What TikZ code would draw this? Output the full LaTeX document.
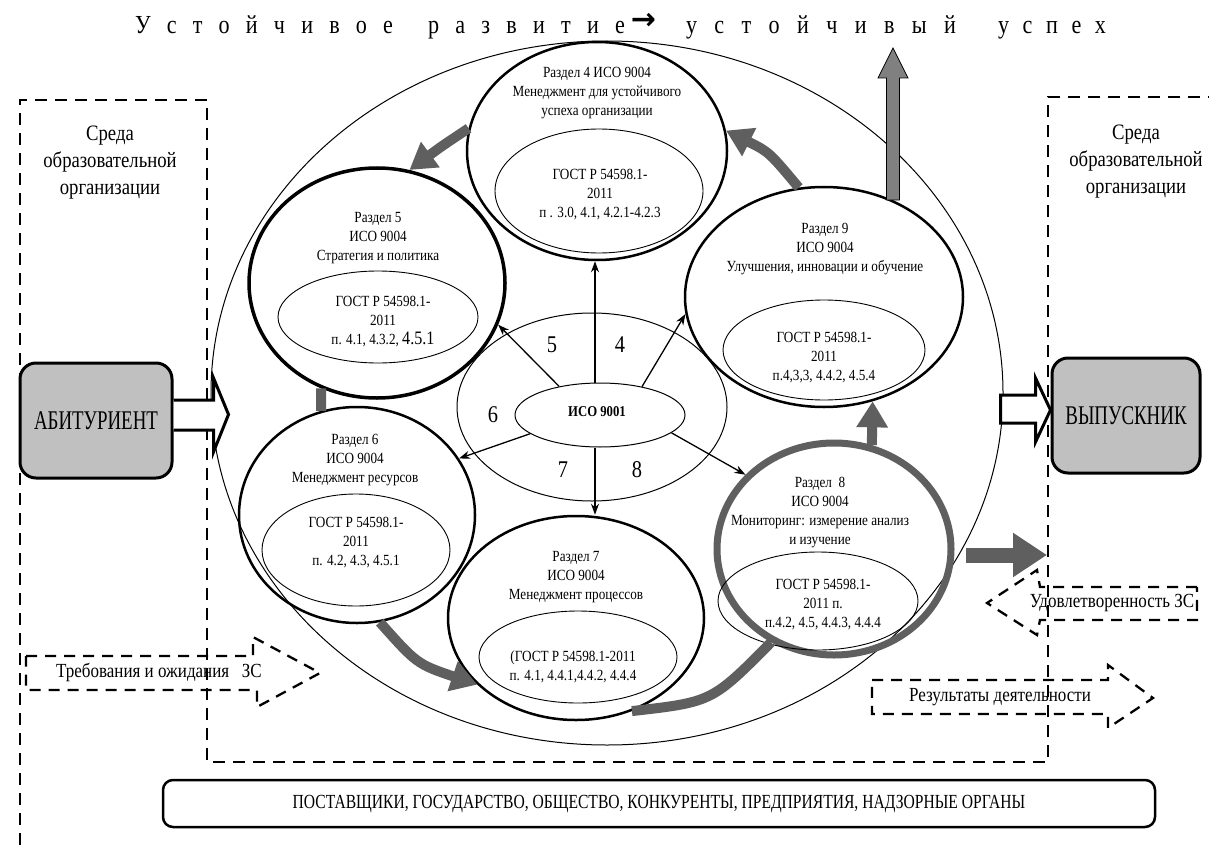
\documentclass[tikz,border=0pt]{standalone}
\usepackage{fontspec}
\setmainfont{Liberation Serif}[FakeStretch=0.85]
\newfontfamily\narrowfont{Liberation Serif}[FakeStretch=0.7]
\newfontfamily\midfont{Liberation Serif}[FakeStretch=0.78]
\newfontfamily\arrfont{DejaVu Sans}
\usetikzlibrary{shapes.geometric,arrows.meta,calc}
\definecolor{bandgrey}{HTML}{5F5F5F}
\definecolor{upgrey}{HTML}{808080}
\definecolor{boxgrey}{HTML}{C0C0C0}
\newcommand\secfont{\fontsize{15.5}{19}\selectfont}
\newcommand\envfont{\fontsize{22}{27}\selectfont}
\newcommand\numfont{\fontsize{24}{26}\selectfont}
\newcommand\dafont{\fontsize{20}{22}\selectfont}
\begin{document}
\begin{tikzpicture}[x=1pt,y=-1pt,
  sec/.style={ellipse, draw, line width=2.5pt, inner sep=0pt},
  inell/.style={ellipse, draw, line width=0.9pt, inner sep=0pt},
  txt/.style={align=center, font=\secfont, inner sep=0pt},
  thinarrow/.style={line width=1.3pt, -{Stealth[length=11pt,width=8pt]}},
  band/.style={line width=10pt, draw=bandgrey, -{Triangle[width=30pt,length=26pt]}},
  bandplain/.style={line width=10pt, draw=bandgrey},
  dashline/.style={line width=2.5pt, dash pattern=on 12pt off 8pt},
  dasharrow/.style={line width=2.3pt, dash pattern=on 11pt off 8pt, line join=miter},
  hollow/.style={line width=3pt, fill=white, line join=miter},
  gbox/.style={rounded corners=16pt, draw, line width=3pt, fill=boxgrey, inner sep=0pt,
    font={\narrowfont\fontsize{27}{30}\selectfont}},
  titleword/.style={anchor=base, inner sep=0pt, font=\fontsize{26}{30}\selectfont}
]
\useasboundingbox (0,0) rectangle (1209,845);
\fill[white] (0,0) rectangle (1209,845);

% title
\node[titleword] (t1) at (264,34) {\makebox[258pt][s]{У с т о й ч и в о е}};
\node[titleword] (t2) at (526.5,34) {\makebox[197pt][s]{р а з в и т и е}};
\node[anchor=base, inner sep=0pt, font={\arrfont\bfseries\fontsize{30}{30}\selectfont}] (tarr) at (643.5,30) {→};
\node[titleword] (t3) at (821,34) {\makebox[270pt][s]{у с т о й ч и в ы й}};
\node[titleword] (t4) at (1052,34) {\makebox[108pt][s]{у с п е х}};

% outer thin ellipse
\node[ellipse, draw, line width=1pt, minimum width=792pt, minimum height=704pt, inner sep=0pt] (outer) at (607,393) {};

% dashed environment lines
\draw[dashline] (20,845) -- (20,100) -- (207,100) -- (207,762) -- (1048,762) -- (1048,97) -- (1209,97);

% environment texts
\node[align=center, font=\envfont, inner sep=0pt] (envL) at (110,163) {Среда\\образовательной\\организации};
\node[align=center, font=\envfont, inner sep=0pt] (envR) at (1136,162) {Среда\\образовательной\\организации};

% central ellipses
\coordinate (vx) at (595,0);
\node[ellipse, draw, line width=1pt, minimum width=270pt, minimum height=188pt, inner sep=0pt] (mid) at (592,407) {};
\node[ellipse, draw, line width=1pt, minimum width=170pt, minimum height=64pt, inner sep=0pt] (iso) at (600,415) {};
\node[inner sep=0pt, font={\bfseries\fontsize{15}{17}\selectfont}] (isot) at (597,412) {ИСО 9001};

% section ellipses
\node[sec, minimum width=260pt, minimum height=218pt] (s4) at (597,151) {};
\node[sec, line width=3.5pt, minimum width=256pt, minimum height=230pt] (s5) at (377,283) {};
\node[sec, minimum width=236pt, minimum height=216pt] (s6) at (357,515) {};
\node[sec, minimum width=256pt, minimum height=204pt] (s7) at (576,618) {};
\node[sec, draw=bandgrey, line width=7pt, minimum width=234pt, minimum height=212pt] (s8) at (834,549) {};
\node[sec, minimum width=278pt, minimum height=220pt] (s9) at (824,297) {};

% inner ellipses
\node[inell, minimum width=208pt, minimum height=124pt] (i4) at (599,191) {};
\node[inell, minimum width=200pt, minimum height=92pt] (i5) at (378,317) {};
\node[inell, minimum width=188pt, minimum height=112pt] (i6) at (356,550) {};
\node[inell, minimum width=198pt, minimum height=92pt] (i7) at (578,657) {};
\node[inell, minimum width=200pt, minimum height=98pt] (i8) at (818,601) {};
\node[inell, minimum width=202pt, minimum height=100pt] (i9) at (824,350) {};

% grey cycle bands
\draw[band] (s4.170) .. controls (442,146) .. (s5.74);
\draw[band] (s9.103) .. controls (769,152) .. (s4.9);
\draw[bandplain] (s5.242) -- (s6.109);
\draw[band] (s6.-78) .. controls (417,664) .. (s7.214);
\draw[bandplain] (s7.-59) .. controls (712,702) .. (s8.236);
\draw[band] (s8.70) -- (s9.-65);

% section texts
\node[txt] (tx4) at (597,93) {Раздел 4 ИСО 9004\\Менеджмент для устойчивого\\успеха организации};
\node[txt] (tg4) at (600,194.5) {ГОСТ Р 54598.1-\\2011\\п . 3.0, 4.1, 4.2.1-4.2.3};
\node[txt] (tx5) at (378,238) {Раздел 5\\ИСО 9004\\Стратегия и политика};
\node[txt] (tg5) at (383,322) {ГОСТ Р 54598.1-\\2011\\п. 4.1, 4.3.2, {\fontsize{19}{19}\selectfont 4.5.1}};
\node[txt] (tx6) at (355,460) {Раздел 6\\ИСО 9004\\Менеджмент ресурсов};
\node[txt] (tg6) at (356,543) {ГОСТ Р 54598.1-\\2011\\п. 4.2, 4.3, 4.5.1};
\node[txt] (tx7) at (576,577) {Раздел 7\\ИСО 9004\\Менеджмент процессов};
\node[txt] (tg7) at (573,667) {(ГОСТ Р 54598.1-2011\\п. 4.1, 4.4.1,4.4.2, 4.4.4};
\node[txt] (tx8) at (820,513) {Раздел\ \ 8\\ИСО 9004\\Мониторинг: измерение анализ\\и изучение};
\node[txt] (tg8) at (823,605) {ГОСТ Р 54598.1-\\2011 п.\\п.4.2, 4.5, 4.4.3, 4.4.4};
\node[txt] (tx9) at (825,249) {Раздел 9\\ИСО 9004\\Улучшения, инновации и обучение};
\node[txt] (tg9) at (824,358) {ГОСТ Р 54598.1-\\2011\\п.4,3,3, 4.4.2, 4.5.4};

% numbers
\node[font=\numfont, inner sep=0pt] (n5) at (552,345) {5};
\node[font=\numfont, inner sep=0pt] (n4) at (620,345) {4};
\node[font=\numfont, inner sep=0pt] (n6) at (493,415) {6};
\node[font=\numfont, inner sep=0pt] (n7) at (563,470) {7};
\node[font=\numfont, inner sep=0pt] (n8) at (637,470) {8};

% thin arrows from ISO 9001
\draw[line width=1.3pt] (mid.north -| vx) -- (iso.north -| vx);
\draw[thinarrow] (iso.north -| vx) -- (s4.south -| vx);
\draw[thinarrow] (iso.south -| vx) -- (s7.north -| vx);
\draw[thinarrow] (iso.145) -- (s5.-19);
\draw[thinarrow] (iso.34) -- (s9.187);
\draw[thinarrow] (iso.195) -- (s6.29);
\draw[thinarrow] (iso.-14) -- (s8.140);

% upward grey arrow
\coordinate (upb) at (893,200);
\draw[line width=0.8pt, fill=upgrey, line join=miter]
  ($(upb)+(-6.5,0)$) -- ($(upb)+(-6.5,-122)$) -- ($(upb)+(-15,-122)$) -- ($(upb)+(0,-152)$)
  -- ($(upb)+(15,-122)$) -- ($(upb)+(6.5,-122)$) -- ($(upb)+(6.5,0)$) -- cycle;

% right grey arrow
\coordinate (ra1) at (966,555);
\coordinate (ra2) at (1047,555);
\draw[line width=15pt, bandgrey, -{Triangle[width=42pt,length=34pt]}] (ra1) -- (ra2);

% boxes
\node[gbox, minimum width=152pt, minimum height=115pt] (abit) at (96,420.5) {АБИТУРИЕНТ};
\node[gbox, minimum width=148pt, minimum height=115pt] (vyp) at (1126,415.5) {ВЫПУСКНИК};

% hollow arrows
\draw[hollow] ($(abit.east)+(0,-20.5)$) -- ($(abit.east)+(40,-20.5)$) -- ($(abit.east)+(40,-42.5)$)
  -- ($(abit.east)+(55,-6)$) -- ($(abit.east)+(40,31.5)$) -- ($(abit.east)+(40,9.5)$) -- ($(abit.east)+(0,9.5)$);
\draw[hollow] ($(vyp.west)+(-50,-20.5)$) -- ($(vyp.west)+(-15,-20.5)$) -- ($(vyp.west)+(-15,-37.5)$)
  -- ($(vyp.west)+(0,-5.5)$) -- ($(vyp.west)+(-15,26.5)$) -- ($(vyp.west)+(-15,7.5)$) -- ($(vyp.west)+(-50,7.5)$) -- cycle;

% dashed hollow arrows
\draw[dasharrow] (26,656) -- (253,656) -- (253,637) -- (320,673) -- (257,707) -- (257,690) -- (26,690) -- cycle;
\node[font=\dafont, inner sep=0pt] (req) at (159,672) {Требования и ожидания \ \ ЗС};
\draw[dasharrow] (1197,587) -- (1040,587) -- (1037,570) -- (987,603) -- (1037,635) -- (1040,620) -- (1197,620) -- cycle;
\node[font=\dafont, inner sep=0pt] (sat) at (1112,603) {Удовлетворенность ЗС};
\draw[dasharrow] (872,680) -- (1108,680) -- (1108,665) -- (1153,698) -- (1108,728) -- (1108,714) -- (872,714) -- cycle;
\node[font=\dafont, inner sep=0pt] (res) at (1000,697) {Результаты деятельности};

% bottom box
\node[draw, line width=2.5pt, rounded corners=10pt, minimum width=992pt, minimum height=47pt, inner sep=0pt,
  font={\midfont\fontsize{20}{22}\selectfont}] (stake) at (659,803.5)
  {ПОСТАВЩИКИ, ГОСУДАРСТВО, ОБЩЕСТВО, КОНКУРЕНТЫ, ПРЕДПРИЯТИЯ, НАДЗОРНЫЕ ОРГАНЫ};
\end{tikzpicture}
\end{document}
